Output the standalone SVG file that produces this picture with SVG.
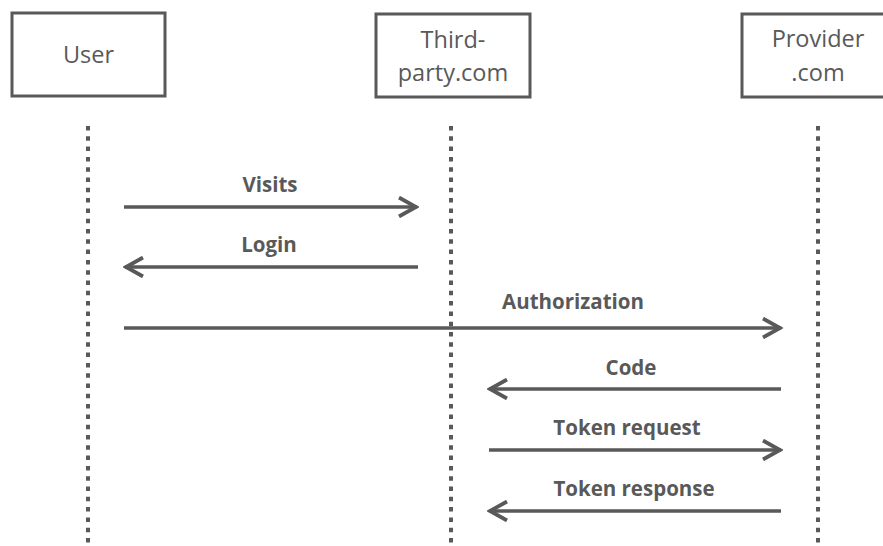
<svg xmlns="http://www.w3.org/2000/svg" width="883" height="546" viewBox="0 0 883 546">
  <style>
    .box { fill: #ffffff; stroke: #595959; stroke-width: 3; }
    .name { font-family: "Open Sans", "Liberation Sans", sans-serif; font-size: 23.5px; fill: #595959; text-anchor: middle; }
    .life { stroke: #595959; stroke-width: 4; stroke-dasharray: 4.5 5.8; fill: none; }
    .msg { stroke: #595959; stroke-width: 3.5; fill: none; }
    .lbl { font-family: "Open Sans", "Liberation Sans", sans-serif; font-size: 20.5px; font-weight: bold; fill: #595959; text-anchor: middle; }
  </style>
  <defs>
    <marker id="head" viewBox="0 0 22 22" refX="20" refY="11" markerWidth="22" markerHeight="22" markerUnits="userSpaceOnUse" orient="auto">
      <path d="M2,1.5 L19,11 L2,20.5" fill="none" stroke="#595959" stroke-width="3.8" stroke-linecap="butt" stroke-linejoin="miter"/>
    </marker>
  </defs>
  <rect width="883" height="546" fill="#ffffff"/>

  <g id="user">
    <rect class="box" x="12" y="13" width="153" height="83"/>
    <text class="name" x="88.5" y="63">User</text>
  </g>
  <g id="third-party">
    <rect class="box" x="376" y="14" width="154" height="83"/>
    <text class="name" x="453" y="48">Third-</text>
    <text class="name" x="453" y="81">party.com</text>
  </g>
  <g id="provider">
    <rect class="box" x="742" y="14" width="153" height="83"/>
    <text class="name" x="818" y="47">Provider</text>
    <text class="name" x="818" y="81">.com</text>
  </g>

  <g id="connectors">
    <line class="msg" x1="124" y1="207" x2="417" y2="207" marker-end="url(#head)"/>
    <line class="msg" x1="418" y1="267" x2="125" y2="267" marker-end="url(#head)"/>
    <line class="msg" x1="124" y1="328" x2="781" y2="328" marker-end="url(#head)"/>
    <line class="msg" x1="781" y1="389" x2="489" y2="389" marker-end="url(#head)"/>
    <line class="msg" x1="489" y1="450" x2="781" y2="450" marker-end="url(#head)"/>
    <line class="msg" x1="781" y1="511" x2="489" y2="511" marker-end="url(#head)"/>

    <line class="life" x1="88" y1="126" x2="88" y2="546"/>
    <line class="life" x1="451" y1="126" x2="451" y2="546"/>
    <line class="life" x1="818" y1="126" x2="818" y2="546"/>

    <text class="lbl" x="270" y="192">Visits</text>
    <text class="lbl" x="269" y="252">Login</text>
    <text class="lbl" x="573" y="309">Authorization</text>
    <text class="lbl" x="631" y="375">Code</text>
    <text class="lbl" x="627" y="435">Token request</text>
    <text class="lbl" x="634" y="496">Token response</text>
  </g>
</svg>
